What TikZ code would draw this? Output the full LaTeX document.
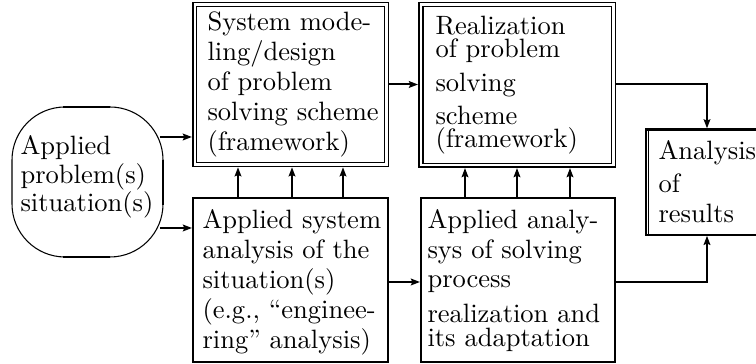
\documentclass[tikz,border=0pt]{standalone}
\usetikzlibrary{arrows.meta,fit}
\begin{document}
\begin{tikzpicture}[x=0.377pt,y=-0.377pt,
  thk/.style={line width=0.75pt},
  arr/.style={thk,-{Stealth[length=3.4pt,width=2.5pt,inset=0.5pt]}},
  dbox/.style={draw,line width=0.6pt,double,double distance=0.9pt,inner sep=0pt,outer sep=1.05pt},
  sbox/.style={draw,thk,inner sep=0pt},
  txt/.style={inner sep=0pt,anchor=base west,font=\fontsize{10}{12}\selectfont},
]
\useasboundingbox (0,0) rectangle (756,364);

% situation oval
\node[draw,line width=0.4pt,rounded corners=20pt,inner sep=0pt,fit={(12,107) (163,257)}] (sit) {};
\draw[thk] (63,107) -- (110,107);
\draw[thk] (63,257) -- (110,257);
\draw[thk] (163,160) -- (163,205);

% boxes
\node[dbox,fit={(194.7,4.5) (386.5,164.5)}] (m1) {};
\node[dbox,fit={(420.8,4.5) (613.5,165.3)}] (m2) {};
\node[sbox,fit={(193,198) (388,362)}] (b1) {};
\node[sbox,fit={(421,198) (615,362)}] (b2) {};
\node[draw,line width=0.85pt,inner sep=0pt,fit={(645.8,129.5) (790,234.7)}] (ar) {};
\draw[line width=0.55pt] (ar.north west) ++(3.6,0) coordinate (arin) -- (arin |- ar.south);

% texts
\node[txt] (s1) at (20,155) {Applied};
\node[txt] (s2) at (20,183.5) {problem(s)};
\node[txt] (s3) at (20,212) {situation(s)};

\node[txt] (m1a) at (207,30.5) {System mode-};
\node[txt] (m1b) at (207,60.5) {ling/design};
\node[txt] (m1c) at (207,91) {of problem};
\node[txt] (m1d) at (207,121) {solving scheme};
\node[txt] (m1e) at (207,151) {(framework)};

\node[txt] (m2a) at (435,35) {Realization};
\node[txt] (m2b) at (435,57.5) {of problem};
\node[txt] (m2c) at (435,92) {solving};
\node[txt] (m2d) at (435,125) {scheme};
\node[txt] (m2e) at (435,148) {(framework)};

\node[txt] (b1a) at (202,229) {Applied system};
\node[txt] (b1b) at (202,259) {analysis of the};
\node[txt] (b1c) at (202,289) {situation(s)};
\node[txt] (b1d) at (202,319) {(e.g., “enginee-};
\node[txt] (b1e) at (202,349) {ring” analysis)};

\node[txt] (b2a) at (427,229) {Applied analy-};
\node[txt] (b2b) at (427,259) {sys of solving};
\node[txt] (b2c) at (427,288) {process};
\node[txt] (b2d) at (427,323) {realization and};
\node[txt] (b2e) at (427,347) {its adaptation};

\node[txt] (ara) at (658,160) {Analysis};
\node[txt] (arb) at (658,192.5) {of};
\node[txt] (arc) at (658,223) {results};

% connectors
\coordinate (o1) at (160,137);
\coordinate (o2) at (160,228);
\draw[arr] (o1) -- (o1 -| m1.west);
\draw[arr] (o2) -- (o2 -| b1.west);
\draw[arr] (m1.east) -- (m1.east -| m2.west);
\foreach \x in {238,292,343} \draw[arr] (b1.north -| \x,0) -- (m1.south -| \x,0);
\foreach \x in {465,517,570} \draw[arr] (b2.north -| \x,0) -- (m2.south -| \x,0);
\draw[arr] (b1.east |- 0,282) -- (b2.west |- 0,282);
\draw[arr] (m2.east |- 0,84) -| (ar.north -| 707,0);
\draw[arr] (b2.east |- 0,282) -| (ar.south -| 707,0);
\end{tikzpicture}
\end{document}
